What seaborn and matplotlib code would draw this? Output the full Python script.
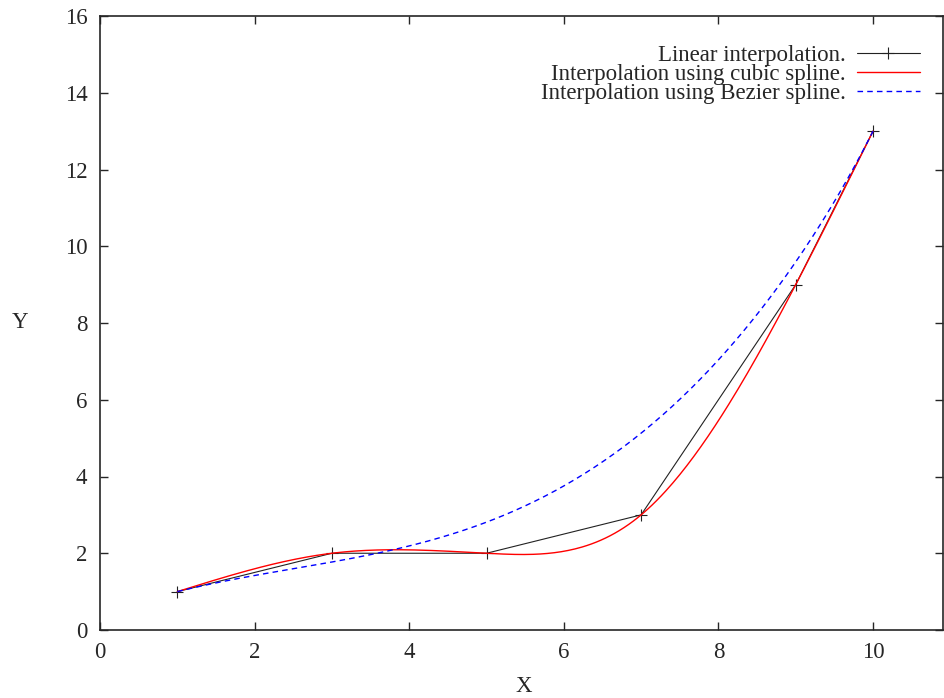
import numpy as np
import pandas as pd
import matplotlib
matplotlib.use("Agg")
import matplotlib.pyplot as plt
import seaborn as sns

# data points
x_pts = [1, 3, 5, 7, 9, 10]
y_pts = [1, 2, 2, 3, 9, 13]

labels = ["Linear interpolation.",
          "Interpolation using cubic spline.",
          "Interpolation using Bezier spline."]


def natural_cspline(xs, ys, n=300):
    xs = np.asarray(xs, float)
    ys = np.asarray(ys, float)
    k = len(xs)
    h = np.diff(xs)
    A = np.zeros((k, k))
    b = np.zeros(k)
    A[0, 0] = 1
    A[-1, -1] = 1
    for i in range(1, k - 1):
        A[i, i - 1] = h[i - 1]
        A[i, i] = 2 * (h[i - 1] + h[i])
        A[i, i + 1] = h[i]
        b[i] = 6 * ((ys[i + 1] - ys[i]) / h[i] - (ys[i] - ys[i - 1]) / h[i - 1])
    M = np.linalg.solve(A, b)
    xx = np.linspace(xs[0], xs[-1], n)
    j = np.clip(np.searchsorted(xs, xx) - 1, 0, k - 2)
    hj = h[j]
    a = xs[j + 1] - xx
    c = xx - xs[j]
    yy = (M[j] * a**3 + M[j + 1] * c**3) / (6 * hj) \
        + (ys[j] / hj - M[j] * hj / 6) * a \
        + (ys[j + 1] / hj - M[j + 1] * hj / 6) * c
    return xx, yy


def bezier(xs, ys, n=300):
    from math import comb
    xs = np.asarray(xs, float)
    ys = np.asarray(ys, float)
    d = len(xs) - 1
    t = np.linspace(0, 1, n)
    w = np.array([comb(d, i) * t**i * (1 - t)**(d - i) for i in range(d + 1)])
    return w.T @ xs, w.T @ ys


cx, cy = natural_cspline(x_pts, y_pts)
bx, by = bezier(x_pts, y_pts)

sns.set_style("ticks")
plt.rcParams['font.family'] = ['Liberation Serif', 'DejaVu Serif']
plt.rcParams['font.size'] = 16.5

fig = plt.figure(figsize=(9.44, 6.98), dpi=100)
ax = fig.add_axes([100 / 944, 68 / 698, 843 / 944, 614 / 698])

sns.lineplot(x=x_pts, y=y_pts, ax=ax, color="#222222", lw=0.8, marker="+",
             markersize=8, markeredgewidth=0.8, markeredgecolor="#222222",
             sort=False, estimator=None, label=labels[0])
sns.lineplot(x=cx, y=cy, ax=ax, color="red", lw=1.0, sort=False,
             estimator=None, label=labels[1])
sns.lineplot(x=bx, y=by, ax=ax, color="blue", lw=1.0, sort=False,
             estimator=None, label=labels[2], linestyle=(0, (4, 3)))

ax.set_xlim(0, 10.905)
ax.set_ylim(0, 16)
ax.set_xticks(range(0, 11, 2))
ax.set_yticks(range(0, 17, 2))
ax.tick_params(direction="in", length=6, width=1, top=True, right=True,
               labelsize=16.5, pad=9)
for s in ax.spines.values():
    s.set_linewidth(1.2)
    s.set_visible(True)

ax.set_xlabel("X", fontsize=16.5)
ax.set_ylabel("Y", fontsize=16.5, rotation=0, va="center", ha="center")
ax.xaxis.set_label_coords((524 - 100) / 843, (630 - 686) / 614)
ax.yaxis.set_label_coords((20 - 100) / 843, (630 - 322) / 614)
ax.xaxis.label.set_va("center")

leg = ax.legend(loc="upper right", frameon=False, markerfirst=False,
                fontsize=16.5, handlelength=2.75, handletextpad=0.5,
                labelspacing=-0.08, borderaxespad=0, borderpad=0,
                bbox_to_anchor=((920 - 100) / 843, (630 - 45) / 614))
leg._legend_box.align = "right"

fig.savefig("out.png", dpi=100)
